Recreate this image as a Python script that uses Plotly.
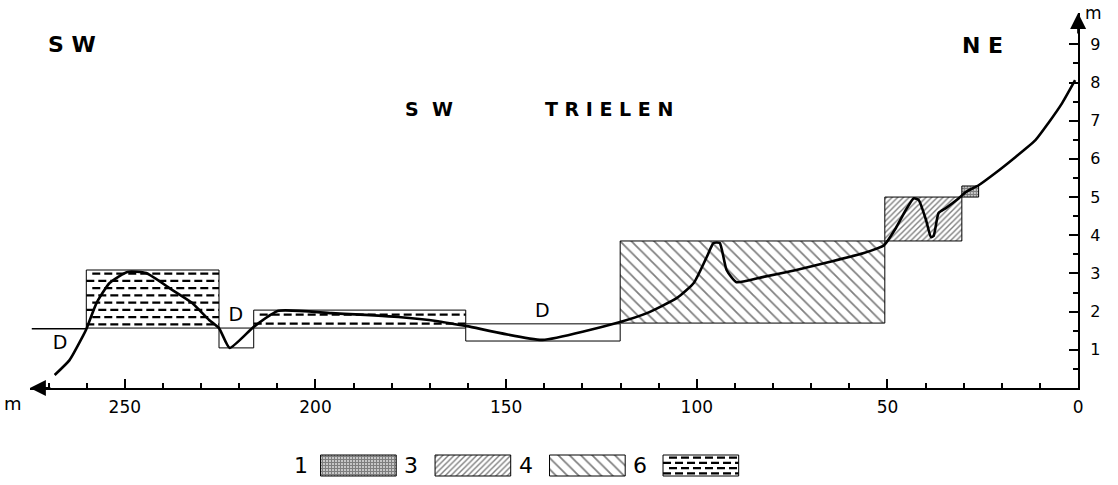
import plotly.graph_objects as go

W, H = 1118, 485

# ---------------- data (distance in m from NE end, elevation in m) ----------------
profile_x = [268.4, 264.5, 261.1, 260.1, 257.4, 254.0, 249.3, 244.4, 237.6, 232.4,
             227.9, 225.3, 222.5, 216.2, 209.7, 195.8, 178.3, 167.9, 160.3, 140.5,
             120.1, 113.1, 105.2, 100.8, 97.4, 95.6, 94.0, 92.2, 89.6, 82.5,
             73.9, 65.3, 56.4, 50.9, 47.8, 45.2, 43.1, 41.8, 39.9, 38.6,
             37.9, 36.6, 34.7, 31.3, 29.5, 26.1, 21.7, 16.4, 11.2, 7.8, 4.2, 0.8]
profile_y = [0.34, 0.73, 1.34, 1.54, 2.23, 2.75, 3.04, 3.01, 2.57, 2.23,
             1.78, 1.57, 1.05, 1.60, 2.02, 1.96, 1.86, 1.75, 1.62, 1.26,
             1.73, 1.96, 2.36, 2.75, 3.43, 3.80, 3.80, 3.09, 2.77, 2.91,
             3.09, 3.30, 3.53, 3.74, 4.19, 4.66, 4.97, 4.92, 4.40, 3.95,
             3.98, 4.58, 4.71, 4.97, 5.13, 5.31, 5.63, 6.05, 6.49, 6.94, 7.46, 8.06]

base_x = [274.4, 260.1]
base_y = [1.55, 1.55]

unit_codes = ["6", "D", "6", "D", "4", "3", "1"]
box_x_sw = [260.1, 225.3, 216.2, 160.6, 120.1, 50.7, 30.5]
box_x_ne = [225.3, 216.2, 160.6, 120.1, 50.7, 30.5, 26.1]
box_bottom = [1.57, 1.05, 1.57, 1.23, 1.70, 3.85, 5.00]
box_top = [3.09, 1.57, 2.04, 1.68, 3.85, 5.00, 5.29]

d_label_x = [267.0, 220.9, 140.5]
d_label_y = [1.15, 1.88, 1.99]

x_tick_vals = [0, 50, 100, 150, 200, 250]
y_tick_vals = [1, 2, 3, 4, 5, 6, 7, 8, 9]

legend_codes = ["1", "3", "4", "6"]

# ---------------- layout / style constants ----------------
FONT = "DejaVu Sans"
X_MAX = 274.9
Y_MAX = 9.82
X_PX = 3.83     # px per metre (horizontal)
Y_PX = 38.2     # px per metre (vertical)
X_DOM = [30 / W, 1083 / W]
Y_DOM = [97 / H, 472 / H]

PATTERNS = {
    "1": dict(shape="+", size=3, solidity=0.75, fgcolor="black", bgcolor="white"),
    "3": dict(shape="/", size=4, solidity=0.35, fgcolor="black", bgcolor="white"),
    "4": dict(shape="\\", size=8, solidity=0.22, fgcolor="black", bgcolor="white"),
}
DASH_STYLE = dict(color="black", width=2.2, dash="8px,4px")

LEG_BOX_X0 = [322, 437, 552, 666]
LEG_BOX_W = 76
LEG_Y0, LEG_Y1 = 455, 476
LEG_NUM_X = [302, 413, 528, 643]


def dash_rows(xa, xb, ya, yb, dy, shift):
    xs, ys = [], []
    n = max(1, int(round((yb - ya) / dy)))
    step = (yb - ya) / n
    for k in range(n):
        y = ya + step * (k + 0.5)
        start = xa + (shift if k % 2 else 0)
        xs += [start, xb, None]
        ys += [y, y, None]
    return xs, ys


def rect(xa, xb, ya, yb):
    return [xa, xb, xb, xa, xa], [ya, ya, yb, yb, ya]


fig = go.Figure()

# section boxes
for code, xa, xb, ya, yb in zip(unit_codes, box_x_sw, box_x_ne, box_bottom, box_top):
    rx, ry = rect(xa, xb, ya, yb)
    kw = dict(x=rx, y=ry, mode="lines", line=dict(color="black", width=1),
              fill="toself", fillcolor="white", showlegend=False, hoverinfo="skip")
    if code in PATTERNS:
        kw["fillpattern"] = PATTERNS[code]
    fig.add_trace(go.Scatter(**kw))
    if code == "6":
        dx, dyv = dash_rows(xa, xb, ya, yb, 7.5 / Y_PX, -6 / X_PX)
        fig.add_trace(go.Scatter(x=dx, y=dyv, mode="lines", line=DASH_STYLE,
                                 showlegend=False, hoverinfo="skip"))

# base level line
fig.add_trace(go.Scatter(x=base_x, y=base_y, mode="lines",
                         line=dict(color="black", width=1.5),
                         showlegend=False, hoverinfo="skip"))

# ground profile
fig.add_trace(go.Scatter(x=profile_x, y=profile_y, mode="lines",
                         line=dict(color="black", width=2.6, shape="spline", smoothing=0.5),
                         showlegend=False, hoverinfo="skip"))

# D labels
fig.add_trace(go.Scatter(x=d_label_x, y=d_label_y, mode="text", text=["D"] * len(d_label_x),
                         textfont=dict(family=FONT, size=19, color="black"),
                         showlegend=False, hoverinfo="skip"))

# legend (separate pixel-unit axes)
for code, x0, nx in zip(legend_codes, LEG_BOX_X0, LEG_NUM_X):
    rx, ry = rect(x0, x0 + LEG_BOX_W, LEG_Y1, LEG_Y0)
    kw = dict(x=rx, y=ry, mode="lines", line=dict(color="black", width=1),
              fill="toself", fillcolor="white", xaxis="x2", yaxis="y2",
              showlegend=False, hoverinfo="skip")
    if code in PATTERNS:
        kw["fillpattern"] = PATTERNS[code]
    fig.add_trace(go.Scatter(**kw))
    if code == "6":
        dx, dyv = dash_rows(x0, x0 + LEG_BOX_W, LEG_Y1, LEG_Y0, -5, 6)
        fig.add_trace(go.Scatter(x=dx, y=dyv, mode="lines", line=DASH_STYLE,
                                 xaxis="x2", yaxis="y2", showlegend=False, hoverinfo="skip"))
    fig.add_annotation(x=nx, y=(LEG_Y0 + LEG_Y1) / 2, xref="x2", yref="y2", text=code,
                       showarrow=False, font=dict(family=FONT, size=22, color="black"))

# axis arrows
fig.add_annotation(x=X_MAX, y=0, xref="x", yref="y", ax=22, ay=0, text="",
                   showarrow=True, arrowhead=2, arrowsize=1.6, arrowwidth=2, arrowcolor="black")
fig.add_annotation(x=0, y=Y_MAX, xref="x", yref="y", ax=0, ay=22, text="",
                   showarrow=True, arrowhead=2, arrowsize=1.6, arrowwidth=2, arrowcolor="black")

# texts
def ptext(px, py, txt, size, bold=False):
    if bold:
        txt = "<b>" + txt + "</b>"
    fig.add_annotation(x=px / W, y=1 - py / H, xref="paper", yref="paper", text=txt,
                       showarrow=False, font=dict(family=FONT, size=size, color="black"),
                       xanchor="center", yanchor="middle")

NB = "\u00a0"
ptext(72, 44, "S" + NB + "W", 22, bold=True)
ptext(987, 45, "N" + NB + "E", 22, bold=True)
ptext(431, 109, "S" + NB * 2 + "W", 19, bold=True)
ptext(612, 109, NB.join("TRIELEN"), 19, bold=True)
ptext(1098, 13, "m", 17)
ptext(13, 403, "m", 18)

axis_common = dict(showgrid=False, zeroline=False, showline=True, linecolor="black",
                   linewidth=2, ticks="inside", tickcolor="black", tickwidth=1.5,
                   ticklen=9, fixedrange=True)

fig.update_layout(
    width=W, height=H,
    margin=dict(l=0, r=0, t=0, b=0, pad=0),
    paper_bgcolor="white", plot_bgcolor="white",
    font=dict(family=FONT, color="black"),
    xaxis=dict(domain=X_DOM, range=[X_MAX, 0], tickvals=x_tick_vals, anchor="y",
               tickfont=dict(size=17), ticklabelstandoff=3,
               minor=dict(dtick=10, tick0=0, ticks="inside", ticklen=5,
                          tickwidth=1.5, tickcolor="black", showgrid=False),
               **axis_common),
    yaxis=dict(domain=Y_DOM, range=[0, Y_MAX], tickvals=y_tick_vals, side="right",
               anchor="x", tickfont=dict(size=16), ticklabelstandoff=7,
               minor=dict(dtick=0.5, tick0=0, ticks="inside", ticklen=5,
                          tickwidth=1.5, tickcolor="black", showgrid=False),
               **axis_common),
    xaxis2=dict(domain=[0, 1], range=[0, W], visible=False, anchor="y2", fixedrange=True),
    yaxis2=dict(domain=[0, 45 / H], range=[485, 440], visible=False, anchor="x2",
                fixedrange=True),
)

fig.write_html("out.html")
